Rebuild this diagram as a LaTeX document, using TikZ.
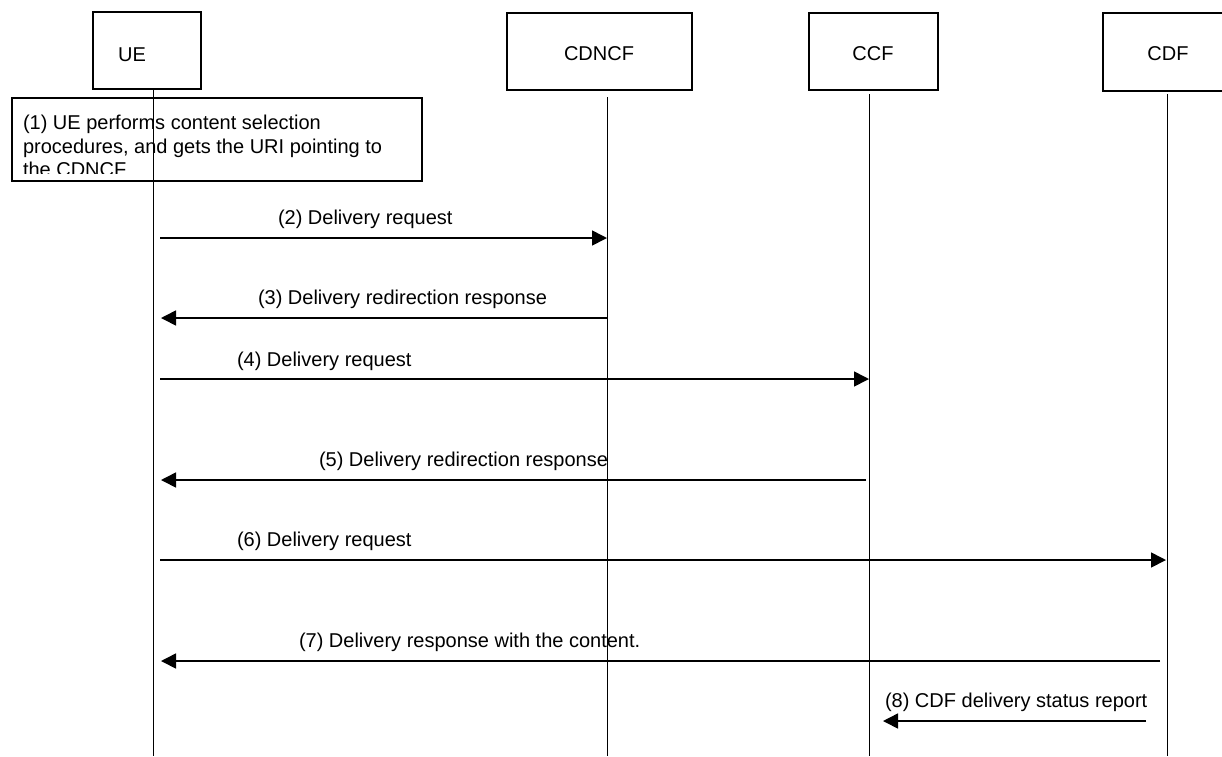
\documentclass[tikz,border=0pt]{standalone}
\usepackage{fontspec}
\setmainfont{Liberation Sans}
\usetikzlibrary{arrows.meta}
\begin{document}
\begin{tikzpicture}[x=1pt,y=-1pt,
  every node/.style={font=\fontsize{20}{23.5}\selectfont, inner sep=0pt, outer sep=0pt},
  actor/.style={draw, line width=1.3pt},
  life/.style={line width=1pt},
  msg/.style={line width=1.6pt, -{Triangle[length=15pt,width=15pt]}},
  lbl/.style={anchor=base west}]
\clip (0,0) rectangle (1222,756);
\useasboundingbox (0,0) rectangle (1222,756);

% participant boxes
\node[actor, minimum width=108pt, minimum height=77pt] (ue) at (147,50.5) {};
\node (uet) at (132,55) {UE};
\node[actor, minimum width=185pt, minimum height=77pt] (cdncf) at (599.5,51.5) {};
\node (cdncft) at (599,54) {CDNCF};
\node[actor, minimum width=129pt, minimum height=77pt] (ccf) at (873.5,51.5) {};
\node (ccft) at (873,54) {CCF};
\node[actor, minimum width=128pt, minimum height=78pt] (cdf) at (1167,52) {};
\node (cdft) at (1168,54) {CDF};

% step 1 box
\node[actor, minimum width=410pt, minimum height=83pt] (s1) at (217,139.5) {};
\begin{scope}
\clip (12,98) rectangle (422,173.5);
\node[lbl] (s1a) at (23,129.5) {(1) UE performs content selection};
\node[lbl] (s1b) at (23,153) {procedures, and gets the URI pointing to};
\node[lbl] (s1c) at (23,176.5) {the CDNCF};
\end{scope}

% lifelines
\coordinate (uetop) at (153,89);     \coordinate (uebot) at (153,756);
\coordinate (cdncftop) at (607,97);  \coordinate (cdncfbot) at (607,756);
\coordinate (ccftop) at (869,94);    \coordinate (ccfbot) at (869,756);
\coordinate (cdftop) at (1167,94);   \coordinate (cdfbot) at (1167,756);
\draw[life] (uetop) -- (uebot);
\draw[life] (cdncftop) -- (cdncfbot);
\draw[life] (ccftop) -- (ccfbot);
\draw[life] (cdftop) -- (cdfbot);

% message end points
\coordinate (m2a) at (160,238);  \coordinate (m2b) at (607,238);
\coordinate (m3a) at (607,318);  \coordinate (m3b) at (161,318);
\coordinate (m4a) at (160,379);  \coordinate (m4b) at (869,379);
\coordinate (m5a) at (866,480);  \coordinate (m5b) at (161,480);
\coordinate (m6a) at (160,560);  \coordinate (m6b) at (1166,560);
\coordinate (m7a) at (1160,661); \coordinate (m7b) at (161,661);
\coordinate (m8a) at (1146,721); \coordinate (m8b) at (883,721);

\draw[msg] (m2a) -- (m2b);
\draw[msg] (m3a) -- (m3b);
\draw[msg] (m4a) -- (m4b);
\draw[msg] (m5a) -- (m5b);
\draw[msg] (m6a) -- (m6b);
\draw[msg] (m7a) -- (m7b);
\draw[msg] (m8a) -- (m8b);

% labels
\node[lbl] (l2) at (278,224) {(2) Delivery request};
\node[lbl] (l3) at (258,304) {(3) Delivery redirection response};
\node[lbl] (l4) at (237,366) {(4) Delivery request};
\node[lbl] (l5) at (319,466) {(5) Delivery redirection response};
\node[lbl] (l6) at (237,546) {(6) Delivery request};
\node[lbl] (l7) at (299,647) {(7) Delivery response with the content.};
\node[lbl] (l8) at (885,707) {(8) CDF delivery status report};
\end{tikzpicture}
\end{document}
